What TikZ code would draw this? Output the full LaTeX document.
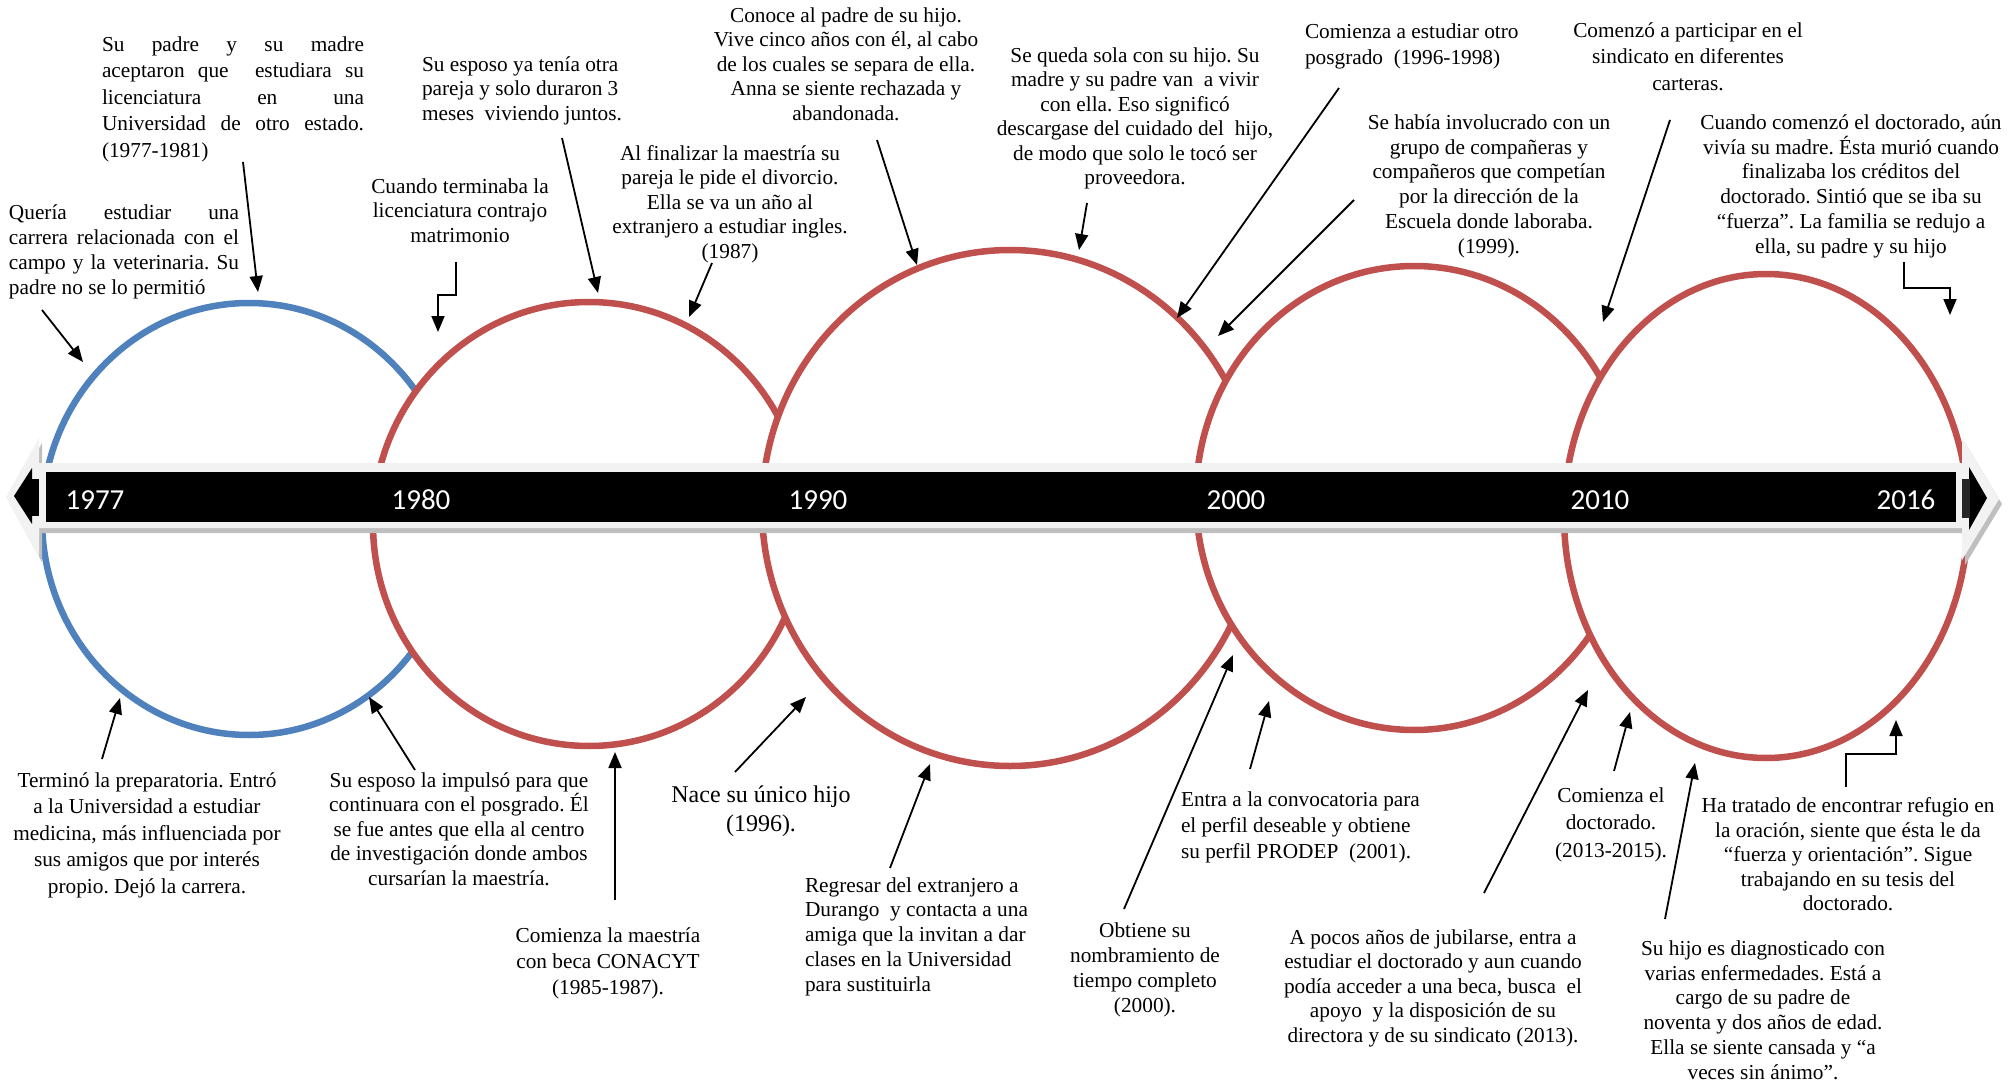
\documentclass[tikz,border=0pt]{standalone}
\usepackage{fontspec}
\setmainfont[Ligatures={TeX,NoCommon}]{Liberation Serif}
\newfontfamily\yearfont{Carlito}
\usetikzlibrary{arrows.meta}
\definecolor{ringblue}{HTML}{4F81BD}
\definecolor{ringred}{HTML}{C0504D}
\definecolor{bandgrey}{HTML}{F2F2F2}
\definecolor{shadowgrey}{HTML}{BFBFBF}
\newcommand{\fs}[1]{\fontsize{21.3}{#1}\selectfont}
\frenchspacing

\begin{document}
\begin{tikzpicture}[x=1pt,y=-1pt,
  ring/.style={line width=6.5pt, fill=white},
  arr/.style={line width=1.8pt, -{Triangle[length=16pt,width=13pt]}},
  note/.style={inner sep=0pt, outer sep=0pt, anchor=north, align=center, font=\fs{24.5}},
  lnote/.style={note, anchor=north west, align=left},
  year/.style={text=white, inner sep=0pt, font=\yearfont\fontsize{29}{30}\selectfont}]

\useasboundingbox (0,0) rectangle (2016,1086);

% overlapping rings, each one covering the one before it
\draw[ring, draw=ringblue] (249,519) ellipse [x radius=207pt, y radius=216pt];
\draw[ring, draw=ringred]  (589,524) ellipse [x radius=216pt, y radius=222pt];
\draw[ring, draw=ringred]  (1010,508) ellipse [x radius=248pt, y radius=258pt];
\draw[ring, draw=ringred]  (1414,498) ellipse [x radius=218pt, y radius=232pt];
\draw[ring, draw=ringred]  (1766,516) ellipse [x radius=202pt, y radius=242pt];

% timeline band: shadow, light frame, black arrow
\fill[shadowgrey, shift={(3,5)}] (39,463) -- (1962,463) -- (1962,438) -- (1999,499) -- (1962,560) -- (1962,528) -- (39,528) -- (39,557) -- (6,497) -- (39,438) -- cycle;
\fill[bandgrey] (39,463) -- (1962,463) -- (1962,438) -- (1999,499) -- (1962,560) -- (1962,528) -- (39,528) -- (39,557) -- (6,497) -- (39,438) -- cycle;
\fill[black] (46,472) rectangle (1956,522);
\fill[black] (32,468) -- (14,496) -- (32,524) -- cycle;
\fill[black] (31,479) rectangle (39,516);
\fill[black] (1969,467) -- (1987,498) -- (1969,530) -- cycle;
\fill[black!85] (1962,479) rectangle (1970,518);

\node[year] (y1977) at (95,500)   {1977};
\node[year] (y1980) at (421,500)  {1980};
\node[year] (y1990) at (818,500)  {1990};
\node[year] (y2000) at (1236,500) {2000};
\node[year] (y2010) at (1600,500) {2010};
\node[year] (y2016) at (1906,500) {2016};

% notes above the timeline
\node[lnote, font=\fs{25}] (nA) at (9,204.5) {\makebox[230pt][s]{Quería estudiar una}\\\makebox[230pt][s]{carrera relacionada con el}\\\makebox[230pt][s]{campo y la veterinaria. Su}\\padre no se lo permitió};
\node[lnote, font=\fs{26.5}] (nB) at (102,36.5) {\makebox[262pt][s]{Su padre y su madre}\\\makebox[262pt][s]{aceptaron que~ estudiara su}\\\makebox[262pt][s]{licenciatura en una}\\\makebox[262pt][s]{Universidad de otro estado.}\\(1977-1981)};
\node[note] (nC) at (460,178.5) {Cuando terminaba la\\licenciatura contrajo\\matrimonio};
\node[lnote] (nD) at (422,56.5) {Su esposo ya tenía otra\\pareja y solo duraron 3\\meses~ viviendo juntos.};
\node[note] (nE) at (730,145.5) {Al finalizar la maestría su\\pareja le pide el divorcio.\\Ella se va un año al\\extranjero a estudiar ingles.\\(1987)};
\node[note] (nF) at (846,7.5) {Conoce al padre de su hijo.\\Vive cinco años con él, al cabo\\de los cuales se separa de ella.\\Anna se siente rechazada y\\abandonada.};
\node[note] (nG) at (1135,47.5) {Se queda sola con su hijo. Su\\madre y su padre van~ a vivir\\con ella. Eso significó\\descargase del cuidado del~ hijo,\\de modo que solo le tocó ser\\proveedora.};
\node[lnote, font=\fs{26}] (nH) at (1305,23.5) {Comienza a estudiar otro\\posgrado~ (1996-1998)};
\node[note, font=\fs{24.8}] (nI) at (1489,114.5) {Se había involucrado con un\\grupo de compañeras y\\compañeros que competían\\por la dirección de la\\Escuela donde laboraba.\\(1999).};
\node[note, font=\fs{26.5}] (nJ) at (1688,22.5) {Comenzó a participar en el\\sindicato en diferentes\\carteras.};
\node[note, font=\fs{24.8}] (nK) at (1851,114.5) {Cuando comenzó el doctorado, aún\\vivía su madre. Ésta murió cuando\\finalizaba los créditos del\\doctorado. Sintió que se iba su\\“fuerza”. La familia se redujo a\\ella, su padre y su hijo};

% notes below the timeline
\node[note, font=\fs{26.5}] (nL) at (147,772.5) {Terminó la preparatoria. Entró\\a la Universidad a estudiar\\medicina, más influenciada por\\sus amigos que por interés\\propio. Dejó la carrera.};
\node[note] (nM) at (459,772.5) {Su esposo la impulsó para que\\continuara con el posgrado. Él\\se fue antes que ella al centro\\de investigación donde ambos\\cursarían la maestría.};
\node[note, font=\fs{26}] (nN) at (608,927.5) {Comienza la maestría\\con beca CONACYT\\(1985-1987).};
\node[note, font=\fontsize{24}{29}\selectfont] (nO) at (761,786) {Nace su único hijo\\(1996).};
\node[lnote, font=\fs{24.7}] (nP) at (805,877.5) {Regresar del extranjero a\\Durango~ y contacta a una\\amiga que la invitan a dar\\clases en la Universidad\\para sustituirla};
\node[note, font=\fs{25}] (nQ) at (1145,922.5) {Obtiene su\\nombramiento de\\tiempo completo\\(2000).};
\node[lnote, font=\fs{26}] (nR) at (1181,791.5) {Entra a la convocatoria para\\el perfil deseable y obtiene\\su perfil PRODEP~ (2001).};
\node[note] (nS) at (1433,929.5) {A pocos años de jubilarse, entra a\\estudiar el doctorado y aun cuando\\podía acceder a una beca, busca~ el\\apoyo~ y la disposición de su\\directora y de su sindicato (2013).};
\node[note, font=\fs{27.5}] (nT) at (1611,787.5) {Comienza el\\doctorado.\\(2013-2015).};
\node[note, font=\fs{24.8}] (nU) at (1763,940.5) {Su hijo es diagnosticado con\\varias enfermedades. Está a\\cargo de su padre de\\noventa y dos años de edad.\\Ella se siente cansada y “a\\veces sin ánimo”.};
\node[note] (nV) at (1848,797.5) {Ha tratado de encontrar refugio en\\la oración, siente que ésta le da\\“fuerza y orientación”. Sigue\\trabajando en su tesis del\\doctorado.};

% arrow ends: tails near the notes, heads on the rings
\coordinate (tA) at (42,310);    \coordinate (hA) at (83,362);
\coordinate (tB) at (243,162);   \coordinate (hB) at (258,292);
\coordinate (tC) at (456,262);   \coordinate (hC) at (438,332);
\coordinate (tD) at (562,138);   \coordinate (hD) at (598,293);
\coordinate (tE) at (712,263);   \coordinate (hE) at (689,317);
\coordinate (tF) at (877,140);   \coordinate (hF) at (917,265);
\coordinate (tG) at (1087,203);  \coordinate (hG) at (1079,250);
\coordinate (tH) at (1339,88);   \coordinate (hH) at (1177,318);
\coordinate (tI) at (1354,200);  \coordinate (hI) at (1218,336);
\coordinate (tJ) at (1670,120);  \coordinate (hJ) at (1603,322);
\coordinate (tK) at (1904,262);  \coordinate (hK) at (1950,315);
\coordinate (tL) at (102,759);   \coordinate (hL) at (120,698);
\coordinate (tM) at (415,770);   \coordinate (hM) at (369,697);
\coordinate (tN) at (615,900);   \coordinate (hN) at (615,752);
\coordinate (tO) at (735,772);   \coordinate (hO) at (806,697);
\coordinate (tP) at (890,868);   \coordinate (hP) at (930,764);
\coordinate (tQ) at (1124,909);  \coordinate (hQ) at (1233,655);
\coordinate (tR) at (1250,769);  \coordinate (hR) at (1269,701);
\coordinate (tS) at (1484,893);  \coordinate (hS) at (1588,690);
\coordinate (tT) at (1614,771);  \coordinate (hT) at (1630,712);
\coordinate (tU) at (1665,919);  \coordinate (hU) at (1695,763);
\coordinate (tV) at (1846,787);  \coordinate (hV) at (1896,720);

\draw[arr] (tA) -- (hA);
\draw[arr] (tB) -- (hB);
\draw[arr] (tC) -- ++(0,33) -| (hC);
\draw[arr] (tD) -- (hD);
\draw[arr] (tE) -- (hE);
\draw[arr] (tF) -- (hF);
\draw[arr] (tG) -- (hG);
\draw[arr] (tH) -- (hH);
\draw[arr] (tI) -- (hI);
\draw[arr] (tJ) -- (hJ);
\draw[arr] (tK) -- ++(0,26) -| (hK);
\draw[arr] (tL) -- (hL);
\draw[arr] (tM) -- (hM);
\draw[arr] (tN) -- (hN);
\draw[arr] (tO) -- (hO);
\draw[arr] (tP) -- (hP);
\draw[arr] (tQ) -- (hQ);
\draw[arr] (tR) -- (hR);
\draw[arr] (tS) -- (hS);
\draw[arr] (tT) -- (hT);
\draw[arr] (tU) -- (hU);
\draw[arr] (tV) -- ++(0,-33) -| (hV);
\end{tikzpicture}
\end{document}
